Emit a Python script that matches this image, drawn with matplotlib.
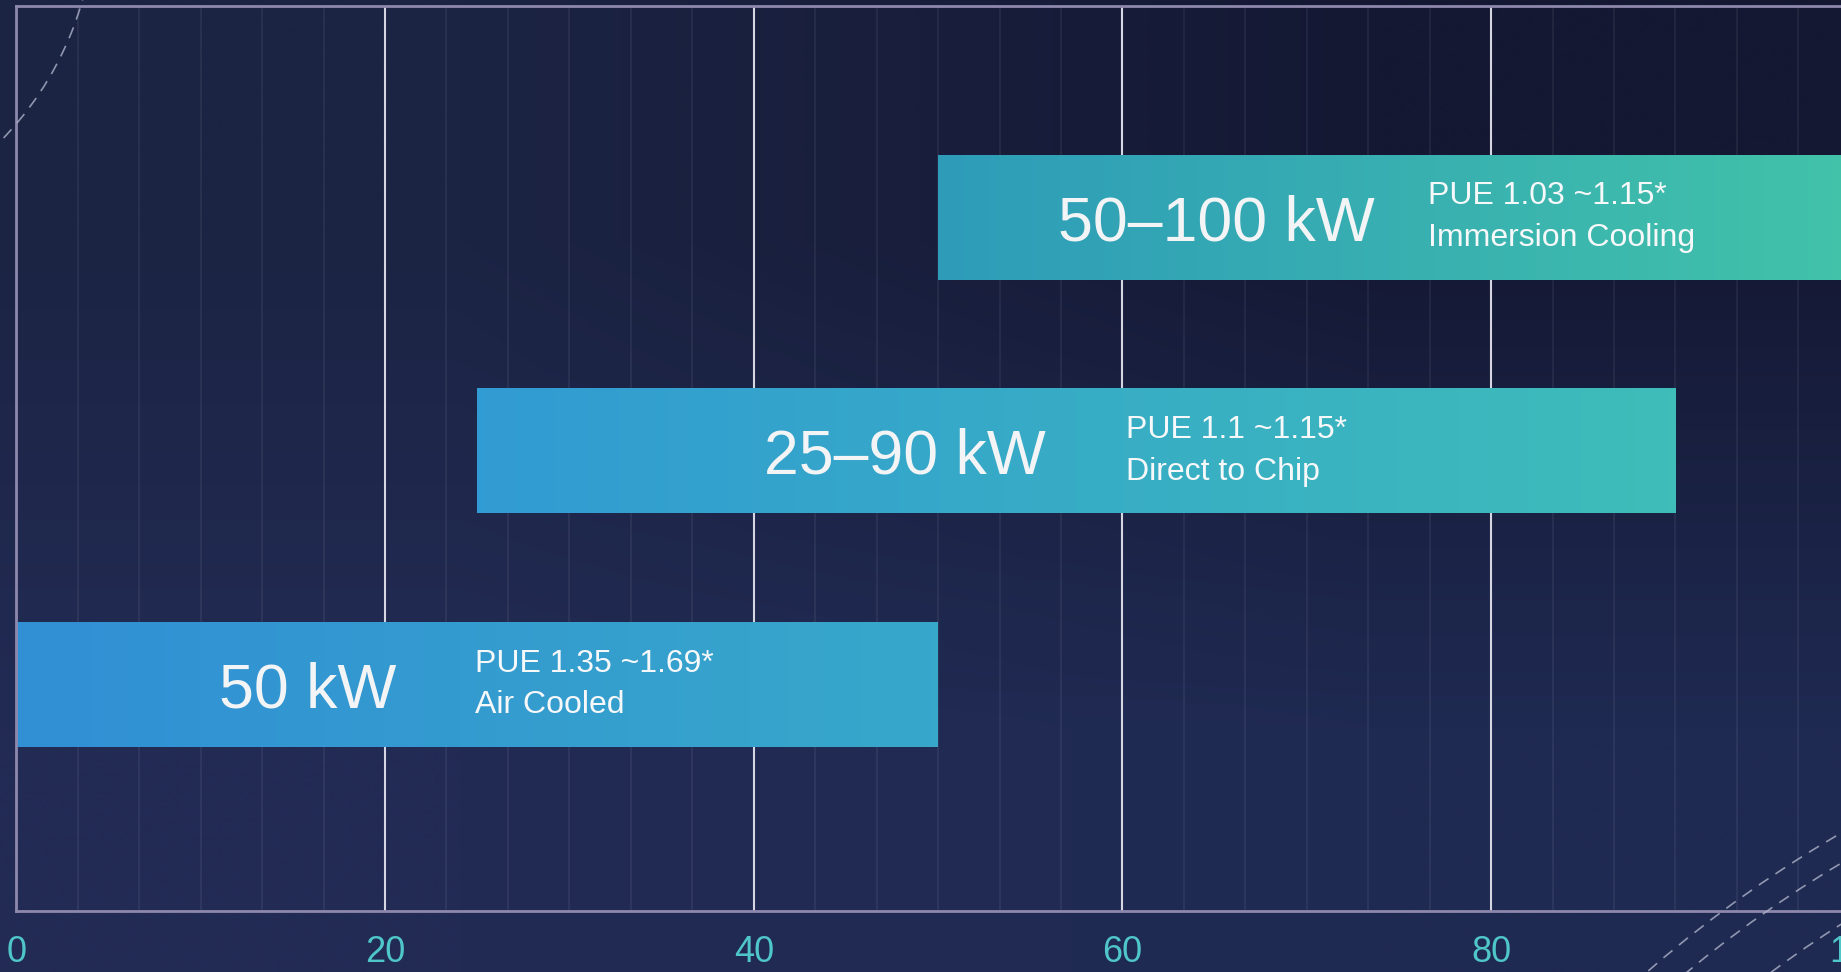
import numpy as np
import matplotlib
matplotlib.use("Agg")
import matplotlib.pyplot as plt
from matplotlib.colors import LinearSegmentedColormap, to_rgb
from matplotlib.patches import Arc
from matplotlib.ticker import MultipleLocator

# rack power density per cooling type (kW)
STARTS = [0, 25, 50]
ENDS = [50, 90, 100]
RANGE_LABELS = ["50 kW", "25–90 kW", "50–100 kW"]
PUE_LABELS = ["PUE 1.35 ~1.69*", "PUE 1.1 ~1.15*", "PUE 1.03 ~1.15*"]
COOLING = ["Air Cooled", "Direct to Chip", "Immersion Cooling"]
X_TICKS = [0, 20, 40, 60, 80, 100]

# label placement (data x) and bar gradients
RANGE_LABEL_X = [15.8, 48.2, 65.1]
PUE_LABEL_X = [24.9, 60.2, 76.6]
BAR_GRADIENTS = [("#318fd5", "#37a8ca"),
                 ("#319bd3", "#3ebdb9"),
                 ("#2e9cb9", "#42c3a9")]

plt.rcParams["font.family"] = ["Liberation Sans", "DejaVu Sans"]

W, H = 1841, 972
fig = plt.figure(figsize=(W / 100, H / 100), dpi=100)

# background gradient
bg = fig.add_axes([0, 0, 1, 1], zorder=-2)
corners = np.array([[to_rgb("#1c2444"), to_rgb("#141833")],
                    [to_rgb("#222b54"), to_rgb("#1f2a52")]])
bg.imshow(corners, extent=[0, 1, 0, 1], interpolation="bilinear", aspect="auto")
bg.axis("off")

ax = fig.add_axes([16.3 / W, 61 / H, 1843.5 / W, 905 / H])
ax.patch.set_alpha(0)

y = np.arange(len(STARTS))
bars = ax.barh(y, np.subtract(ENDS, STARTS), left=STARTS, height=0.535,
               color="none", linewidth=0, zorder=2)
for bar, (c0, c1) in zip(bars, BAR_GRADIENTS):
    cmap = LinearSegmentedColormap.from_list("g", [c0, c1])
    x0, y0 = bar.get_x(), bar.get_y()
    im = ax.imshow(np.linspace(0, 1, 256)[None, :], cmap=cmap,
                   extent=[x0, x0 + bar.get_width(), y0, y0 + bar.get_height()],
                   aspect="auto", origin="lower", interpolation="bilinear", zorder=2)
    im.set_clip_path(bar)

for i in range(len(STARTS)):
    ax.text(RANGE_LABEL_X[i], y[i], RANGE_LABELS[i], ha="center",
            va="center_baseline", fontsize=45, color="#f2f4f6", zorder=3)
    ax.text(PUE_LABEL_X[i], y[i], PUE_LABELS[i] + "\n" + COOLING[i],
            ha="left", va="center", fontsize=23, linespacing=1.5,
            color="#f7f8fa", zorder=3)

ax.set_xlim(0, 100)
ax.set_ylim(-0.969, 2.903)
ax.set_xticks(X_TICKS)
ax.xaxis.set_minor_locator(MultipleLocator(20 / 6))
ax.set_yticks([])
ax.tick_params(axis="x", which="both", length=0, pad=17,
               labelsize=26, labelcolor="#4fc6c8")
ax.grid(axis="x", which="major", color="#d6d6e2", linewidth=1.5)
ax.grid(axis="x", which="minor", color="#ffffff", alpha=0.06, linewidth=1.5)
ax.set_axisbelow(True)
ax.spines["right"].set_visible(False)
for s in ["left", "top", "bottom"]:
    ax.spines[s].set_color("#8e88ad")
    ax.spines[s].set_linewidth(2)

# decorative dashed arcs (figure pixels)
ov = fig.add_axes([0, 0, 1, 1], zorder=5)
ov.set_xlim(0, W)
ov.set_ylim(H, 0)
ov.axis("off")
for cx, cy, r in [(-235, -90, 330), (2469, 1915, 1251),
                  (2469, 1915, 1225), (2469, 1915, 1173)]:
    ov.add_patch(Arc((cx, cy), 2 * r, 2 * r, color="#aeb3c8", lw=1.2,
                     ls=(0, (7, 5)), alpha=0.8))

fig.savefig("out.png", dpi=100)
